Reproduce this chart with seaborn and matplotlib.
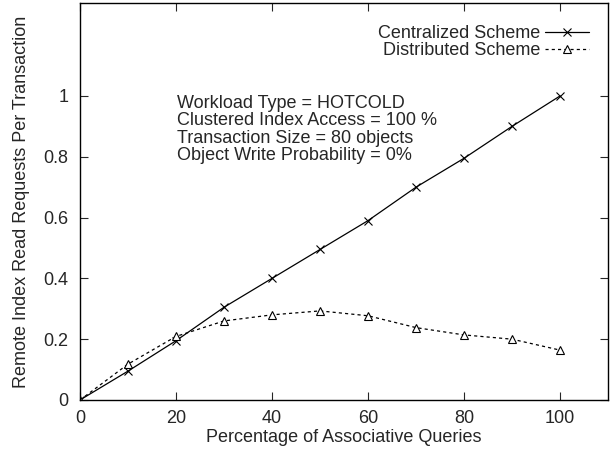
import matplotlib
matplotlib.use("Agg")
import matplotlib.pyplot as plt
import seaborn as sns
import pandas as pd

# data
pct_queries = [0, 10, 20, 30, 40, 50, 60, 70, 80, 90, 100]
centralized = [0.0, 0.095, 0.195, 0.305, 0.40, 0.495, 0.59, 0.70, 0.795, 0.90, 1.0]
distributed = [0.0, 0.118, 0.209, 0.26, 0.28, 0.293, 0.277, 0.238, 0.214, 0.20, 0.164]
y_ticks = [0, 0.2, 0.4, 0.6, 0.8, 1]
x_ticks = [0, 20, 40, 60, 80, 100]
notes = ["Workload Type = HOTCOLD",
         "Clustered Index Access = 100 %",
         "Transaction Size = 80 objects",
         "Object Write Probability = 0%"]

sns.set_style("ticks")
plt.rcParams['font.family'] = ['Liberation Sans', 'DejaVu Sans']
plt.rcParams['xtick.direction'] = 'in'
plt.rcParams['ytick.direction'] = 'in'

df = pd.DataFrame({'pct': pct_queries, 'Centralized Scheme': centralized,
                   'Distributed Scheme': distributed})

fig = plt.figure(figsize=(6.13, 4.53), dpi=100)
ax = fig.add_axes([0.1305, 0.117, 0.8615, 0.876])

sns.lineplot(data=df, x='pct', y='Centralized Scheme', ax=ax, color='black',
             lw=0.9, marker='x', markersize=6, mew=0.8, mec='black',
             label='Centralized Scheme')
sns.lineplot(data=df, x='pct', y='Distributed Scheme', ax=ax, color='black',
             lw=0.9, ls=(0, (2.5, 2.5)), marker='^', markersize=5.5, mew=0.8,
             mec='black', mfc='white', label='Distributed Scheme')

ax.set_xlim(0, 110)
ax.set_ylim(0, 1.305)
ax.set_xticks(x_ticks)
ax.set_yticks(y_ticks)
ax.set_yticklabels([f"{v:g}" for v in y_ticks])
ax.tick_params(top=True, right=True, labelsize=13, length=6, width=0.8)
ax.tick_params(axis='x', pad=7.5)
ax.tick_params(axis='y', pad=8.5)
for s in ax.spines.values():
    s.set_linewidth(1.0)
    s.set_color('black')

ax.set_xlabel('Percentage of Associative Queries', fontsize=13, labelpad=1.5)
ax.set_ylabel('Remote Index Read Requests Per Transaction', fontsize=13, labelpad=9.5)

for i, t in enumerate(notes):
    ax.text(20.3, 0.975 - i * 0.057, t, fontsize=13, va='center', ha='left')

ax.legend(loc='upper right', frameon=False, markerfirst=False, fontsize=13,
          handlelength=2.4, handletextpad=0.3, borderaxespad=0, labelspacing=0.0,
          bbox_to_anchor=(0.977, 0.962))

fig.savefig('out.png', dpi=100)
